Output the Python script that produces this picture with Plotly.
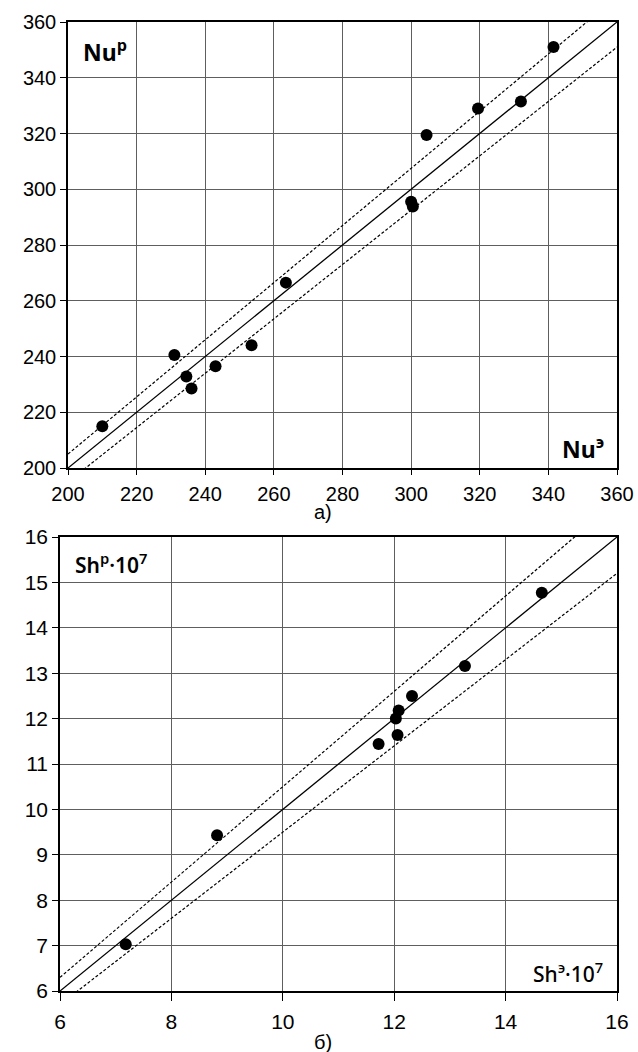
import plotly.graph_objects as go

# ---- panel a) Nu ----
nu_exp = [210, 231, 234.5, 236, 243, 253.5, 263.5, 300, 300.5, 304.5, 319.5, 332, 341.5]
nu_calc = [215, 240.5, 232.8, 228.5, 236.5, 244, 266.5, 295.5, 293.8, 319.5, 329, 331.5, 351]
nu_range = [200, 360]
nu_tol = 0.025

# ---- panel б) Sh ----
sh_exp = [7.18, 8.82, 11.72, 12.03, 12.06, 12.08, 12.32, 13.27, 14.65]
sh_calc = [7.03, 9.43, 11.44, 12.0, 11.64, 12.18, 12.5, 13.16, 14.77]
sh_range = [6, 16]
sh_tol = 0.05

nu_ticks = [200, 220, 240, 260, 280, 300, 320, 340, 360]
sh_xticks = [6, 8, 10, 12, 14, 16]
sh_yticks = [6, 7, 8, 9, 10, 11, 12, 13, 14, 15, 16]

fig = go.Figure()

def add_panel(xs, ys, rng, tol, xa, ya):
    line_x = list(rng)
    fig.add_trace(go.Scatter(x=line_x, y=line_x, mode="lines",
                             line=dict(color="black", width=1.3),
                             xaxis=xa, yaxis=ya, showlegend=False, hoverinfo="skip"))
    for f in (1 + tol, 1 - tol):
        fig.add_trace(go.Scatter(x=line_x, y=[v * f for v in line_x], mode="lines",
                                 line=dict(color="black", width=1.2, dash="3px,2px"),
                                 xaxis=xa, yaxis=ya, showlegend=False, hoverinfo="skip"))
    fig.add_trace(go.Scatter(x=xs, y=ys, mode="markers",
                             marker=dict(color="black", size=12),
                             xaxis=xa, yaxis=ya, showlegend=False))

add_panel(nu_exp, nu_calc, nu_range, nu_tol, "x", "y")
add_panel(sh_exp, sh_calc, sh_range, sh_tol, "x2", "y2")

W, H = 638, 1052

def ax(size, ticklen, standoff=0):
    return dict(showline=True, linecolor="black", linewidth=1.5, mirror=True,
                showgrid=True, gridcolor="#5e5e5e", gridwidth=1,
                ticks="outside", ticklen=ticklen, tickcolor="black", tickwidth=1,
                tickfont=dict(family="Liberation Sans, Arial, sans-serif", size=size, color="black"),
                ticklabelstandoff=standoff, zeroline=False, automargin=False)

fig.update_layout(
    width=W, height=H, margin=dict(l=0, r=0, t=0, b=0, autoexpand=False),
    paper_bgcolor="white", plot_bgcolor="white",
    xaxis=dict(domain=[68 / W, 617 / W], range=nu_range, tickvals=nu_ticks, anchor="y", **ax(20, 5, 2)),
    yaxis=dict(domain=[1 - 468 / H, 1 - 22 / H], range=nu_range, tickvals=nu_ticks, anchor="x", **ax(20, 6)),
    xaxis2=dict(domain=[60 / W, 617 / W], range=sh_range, tickvals=sh_xticks, anchor="y2", **ax(21, 8, 3)),
    yaxis2=dict(domain=[1 - 991 / H, 1 - 537 / H], range=sh_range, tickvals=sh_yticks, anchor="x2", **ax(21, 6)),
)

labfont = dict(family="Noto Sans, Open Sans, sans-serif", size=23, color="black")
ann = [
    dict(text="<b>Nu<sup>р</sup></b>", x=81 / W, y=1 - 51 / H, xanchor="left", yanchor="middle"),
    dict(text="<b>Nu<sup>э</sup></b>", x=606 / W, y=1 - 448 / H, xanchor="right", yanchor="middle"),
    dict(text="Sh<sup>р</sup>·10<sup>7</sup>", x=73 / W, y=1 - 563 / H, xanchor="left", yanchor="middle",
         font=dict(family="Noto Sans, Open Sans, sans-serif", size=21, color="black", weight=600)),
    dict(text="Sh<sup>э</sup>·10<sup>7</sup>", x=605 / W, y=1 - 972 / H, xanchor="right", yanchor="middle",
         font=dict(family="Noto Sans, Open Sans, sans-serif", size=21, color="black", weight=500)),
    dict(text="а)", x=323 / W, y=1 - 512 / H, xanchor="center", yanchor="middle",
         font=dict(family="Liberation Sans, Arial, sans-serif", size=20, color="black")),
    dict(text="б)", x=323 / W, y=1 - 1042 / H, xanchor="center", yanchor="middle",
         font=dict(family="Liberation Sans, Arial, sans-serif", size=20, color="black")),
]
for a in ann:
    a.setdefault("font", labfont)
    fig.add_annotation(xref="paper", yref="paper", showarrow=False, **a)

fig.write_html("out.html")
